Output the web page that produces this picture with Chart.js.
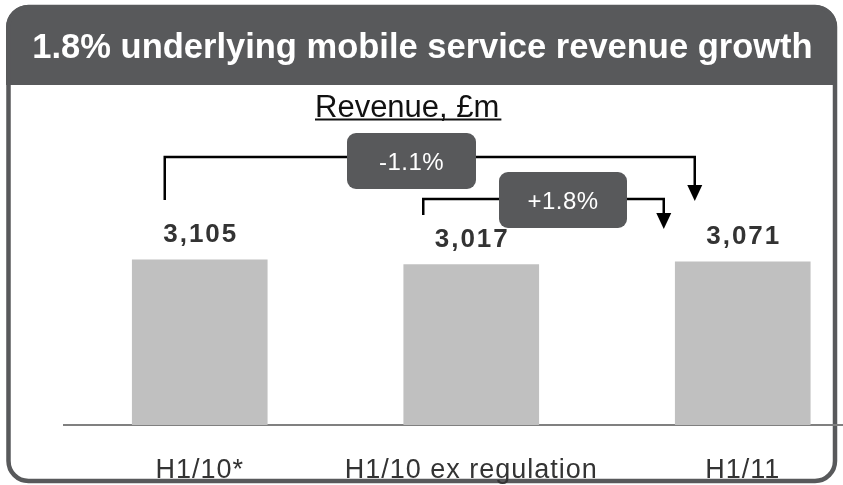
<!DOCTYPE html>
<html>
<head>
<meta charset="utf-8">
<title>Mobile service revenue</title>
<script src="https://cdn.jsdelivr.net/npm/chart.js@4/dist/chart.umd.min.js"></script>
<style>
  html, body { margin: 0; padding: 0; background: #fff; overflow: hidden; }
  canvas { display: block; }
</style>
</head>
<body>
<canvas id="revenueChart" width="843" height="485"></canvas>
<script>
// Datos del gráfico
const categories = ['H1/10*', 'H1/10 ex regulation', 'H1/11'];
const revenue = [3105, 3017, 3071];
const valueLabels = ['3,105', '3,017', '3,071'];
const changeLabels = ['-1.1%', '+1.8%'];
const chartTitle = '1.8% underlying mobile service revenue growth';
const unitLabel = 'Revenue, £m';

const FONT = "'Liberation Sans', Arial, sans-serif";
const DARK = '#58595b';

// Marco redondeado con cabecera gris y textos superiores
const framePlugin = {
  id: 'frame',
  beforeDraw(chart) {
    const ctx = chart.ctx;
    ctx.save();
    ctx.fillStyle = '#fff';
    ctx.fillRect(0, 0, chart.width, chart.height);

    // cabecera
    ctx.save();
    ctx.beginPath();
    ctx.roundRect(6, 5, 831, 478, 22);
    ctx.clip();
    ctx.fillStyle = DARK;
    ctx.fillRect(0, 0, chart.width, 85);
    ctx.restore();

    // borde
    ctx.beginPath();
    ctx.roundRect(8.5, 7, 826.5, 474, 20);
    ctx.lineWidth = 4.5;
    ctx.strokeStyle = DARK;
    ctx.stroke();

    // título
    ctx.fillStyle = '#fff';
    ctx.font = 'bold 34.5px ' + FONT;
    ctx.textAlign = 'center';
    ctx.textBaseline = 'alphabetic';
    ctx.fillText(chartTitle, 422.5, 58);

    // unidades subrayadas
    ctx.fillStyle = '#111';
    ctx.font = '31px ' + FONT;
    ctx.textAlign = 'left';
    ctx.fillText(unitLabel, 315, 117);
    const w = ctx.measureText(unitLabel).width;
    ctx.fillRect(315, 118.5, w + 2, 2);
    ctx.restore();

    // espaciado de letras para las etiquetas del eje
    ctx.letterSpacing = '1px';
  },
  beforeDatasetsDraw(chart) {
    chart.ctx.letterSpacing = '0px';
  }
};

// Valores sobre las barras y flechas de variación
const annotationPlugin = {
  id: 'annotations',
  afterDatasetsDraw(chart) {
    const ctx = chart.ctx;
    const xs = chart.scales.x;
    const bars = chart.getDatasetMeta(0).data;

    ctx.save();
    ctx.fillStyle = '#333';
    ctx.font = 'bold 26px ' + FONT;
    ctx.letterSpacing = '2px';
    ctx.textAlign = 'center';
    ctx.textBaseline = 'alphabetic';
    bars.forEach((bar, i) => {
      ctx.fillText(valueLabels[i], bar.x + 1, bar.y - 18);
    });
    ctx.letterSpacing = '0px';

    // corchete con flecha hacia abajo
    function bracket(x1, yBottom, yTop, x2, yTip) {
      ctx.strokeStyle = '#000';
      ctx.fillStyle = '#000';
      ctx.lineWidth = 2.5;
      ctx.lineJoin = 'miter';
      ctx.beginPath();
      ctx.moveTo(x1, yBottom);
      ctx.lineTo(x1, yTop);
      ctx.lineTo(x2, yTop);
      ctx.lineTo(x2, yTip - 12);
      ctx.stroke();
      ctx.beginPath();
      ctx.moveTo(x2 - 7.5, yTip - 16);
      ctx.lineTo(x2 + 7.5, yTip - 16);
      ctx.lineTo(x2, yTip);
      ctx.closePath();
      ctx.fill();
    }
    bracket(xs.getPixelForValue(0) - 35, 200, 157, xs.getPixelForValue(2) - 48, 201);
    bracket(xs.getPixelForValue(1) - 48, 215, 199, xs.getPixelForValue(2) - 79, 229);

    // cajas de porcentaje
    function badge(x, y, w, h, text) {
      ctx.beginPath();
      ctx.roundRect(x, y, w, h, 9);
      ctx.fillStyle = DARK;
      ctx.fill();
      ctx.fillStyle = '#fff';
      ctx.font = '24px ' + FONT;
      ctx.letterSpacing = '0.5px';
      ctx.textAlign = 'center';
      ctx.fillText(text, x + w / 2, y + h / 2 + 9);
      ctx.letterSpacing = '0px';
    }
    badge(347, 133, 129, 56, changeLabels[0]);
    badge(499, 172, 128, 56, changeLabels[1]);
    ctx.restore();
  }
};

const ctx = document.getElementById('revenueChart').getContext('2d');
const revenueChart = new Chart(ctx, {
  type: 'bar',
  data: {
    datasets: [{
      data: revenue.map((v, i) => ({ x: i, y: v })),
      backgroundColor: '#c0c0c0',
      borderWidth: 0,
      barThickness: 135
    }]
  },
  options: {
    responsive: false,
    animation: false,
    layout: { padding: { left: 64, right: 0, top: 240, bottom: 0 } },
    plugins: {
      legend: { display: false },
      title: { display: false },
      tooltip: { enabled: false }
    },
    scales: {
      x: {
        type: 'linear',
        offset: false,
        min: -0.5,
        max: 779 / 271.5 - 0.5,
        grid: { display: false },
        border: { color: '#808080', width: 2 },
        afterBuildTicks: axis => { axis.ticks = categories.map((c, i) => ({ value: i })); },
        afterFit: axis => { axis.height = 60; },
        ticks: {
          callback: v => categories[v],
          color: '#333',
          font: { size: 27, family: FONT },
          padding: 21,
          maxRotation: 0,
          autoSkip: false
        }
      },
      y: {
        display: false,
        min: 0,
        max: 3480
      }
    }
  },
  plugins: [framePlugin, annotationPlugin]
});
</script>
</body>
</html>
